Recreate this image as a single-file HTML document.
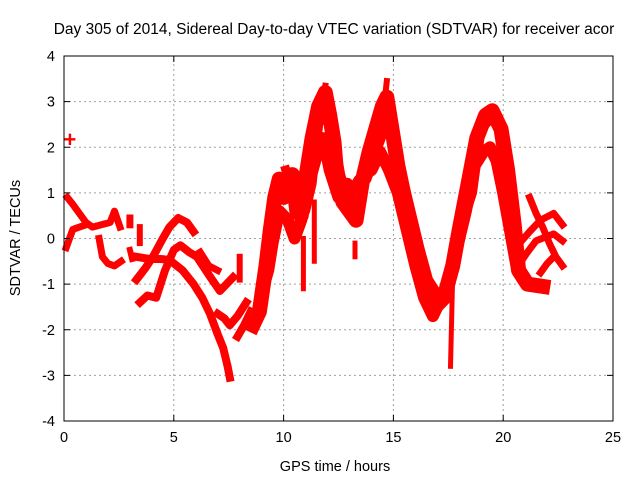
<!DOCTYPE html>
<html><head><meta charset="utf-8"><style>
body{margin:0;background:#fff}
svg{display:block;font-family:"Liberation Sans",Arial,sans-serif}
</style></head><body>
<svg id="chart" width="640" height="480" xmlns="http://www.w3.org/2000/svg">
<text x="334" y="34" font-size="15.5" text-anchor="middle">Day 305 of 2014, Sidereal Day-to-day VTEC variation (SDTVAR) for receiver acor</text>
<text x="335" y="471" font-size="14.5" text-anchor="middle">GPS time / hours</text>
<text x="20" y="238" font-size="14.5" text-anchor="middle" transform="rotate(-90 20 238)">SDTVAR / TECUs</text>
<g id="grid"></g>
<g id="marks"></g>
<g id="axes"></g>
</svg>
<script>
const xTicks=[0,5,10,15,20,25];
const yTicks=[-4,-3,-2,-1,0,1,2,3,4];
const trackEarlyA=[[0.15,0.9],[0.4,0.75],[0.7,0.55],[1.0,0.35],[1.3,0.25],[1.7,0.3],[2.1,0.35],[2.3,0.6],[2.55,0.25]];
const trackEarlyB=[[0.1,-0.2],[0.4,0.2],[0.7,0.25],[1.0,0.3]];
const trackEarlyC=[[1.6,0.0],[1.75,-0.4],[2.0,-0.55],[2.3,-0.6],[2.6,-0.5]];
const trackEarlyD=[[3.0,0.45],[3.0,0.3]];
const trackEarlyE=[[3.45,0.25],[3.45,-0.1]];
const trackEarlyF=[[3.0,-0.25],[3.1,-0.45]];
const trackUpper=[[3.3,-0.9],[3.7,-0.65],[4.05,-0.4],[4.5,0.0],[4.8,0.25],[5.2,0.45],[5.6,0.35],[5.9,0.15]];
const trackMiddle=[[3.46,-1.4],[3.8,-1.25],[4.2,-1.3],[4.6,-0.7],[5.0,-0.25],[5.3,-0.15],[5.7,-0.3],[6.05,-0.4],[6.6,-0.8],[7.1,-1.15],[7.4,-1.0],[7.7,-0.85]];
const trackLower=[[3.3,-0.4],[3.9,-0.45],[4.4,-0.45],[4.8,-0.47],[5.4,-0.7],[5.9,-1.0],[6.3,-1.3],[6.65,-1.65],[7.0,-2.1],[7.25,-2.4],[7.45,-2.8],[7.55,-3.05]];
const trackSide=[[6.2,-0.3],[6.6,-0.6],[7.0,-0.7]];
const trackDip=[[7.0,-1.65],[7.3,-1.75],[7.55,-1.9],[7.9,-1.7],[8.3,-1.4]];
const trackSpike8=[[8.0,-0.4],[8.0,-0.9]];
const trackLow8=[[7.9,-2.15],[8.2,-1.9],[8.5,-1.6]];
const blobMain=[[8.6,-1.9],[8.9,-1.6],[9.2,-0.6],[9.4,0.2],[9.6,0.9],[9.8,1.3],[10.0,0.9],[10.2,1.2],[10.4,1.4],[10.6,0.6],[10.8,0.5],[11.0,1.3],[11.3,2.2],[11.6,2.9],[11.9,3.2],[12.1,2.7],[12.3,2.1],[12.4,1.5],[12.7,0.8],[13.0,0.6],[13.3,0.4],[13.6,1.3],[13.9,1.9],[14.2,2.4],[14.5,2.9],[14.7,3.1],[14.9,2.5],[15.2,1.6],[15.5,0.9],[15.8,0.2],[16.1,-0.5],[16.5,-1.1],[16.9,-1.5],[17.3,-1.3],[17.7,-0.6],[18.0,0.2],[18.4,1.2],[18.8,2.2],[19.2,2.7],[19.5,2.8],[19.9,2.4],[20.2,1.5],[20.5,0.3],[20.7,-0.7],[21.1,-1.0],[21.8,-1.05]];
const blobSecond=[[9.0,-1.2],[9.3,-0.7],[9.5,-0.1],[9.8,0.6],[10.2,0.4],[10.5,0.0],[10.8,0.4],[11.2,1.3],[11.5,1.8],[11.8,2.2],[12.1,1.5],[12.5,0.9],[12.9,1.2],[13.1,0.5],[13.3,0.9],[13.7,1.4],[14.0,1.5],[14.4,1.9],[14.8,1.5],[15.2,1.0],[15.6,0.2],[16.0,-0.6],[16.4,-1.3],[16.8,-1.7],[17.2,-1.3],[17.5,-1.0],[17.9,-0.2],[18.3,0.6],[18.7,1.6],[19.1,1.9],[19.4,2.0],[19.7,1.7],[20.0,1.0],[20.3,0.2],[20.6,-0.6]];
const blobThird=[[10.1,1.5],[10.4,1.0],[10.6,1.0],[11.0,0.6],[11.3,1.2],[11.6,2.5],[12.0,3.0],[12.3,2.2],[12.6,1.4],[12.9,0.9],[13.4,1.3],[13.8,1.3],[14.3,2.0],[14.6,2.4],[15.0,2.4],[15.4,1.4],[15.8,0.6],[16.2,-0.2],[16.6,-0.9],[17.0,-1.2],[17.4,-1.2],[17.8,-0.5],[18.2,0.4],[18.6,1.0],[19.0,2.4],[19.6,2.7],[20.0,2.2],[20.3,1.2],[20.5,0.0],[20.9,-0.9]];
const spikeA=[[10.9,0.0],[10.9,-1.1]];
const spikeB=[[11.4,0.8],[11.4,-0.5]];
const spikeC=[[13.25,-0.1],[13.25,-0.4]];
const spikeD=[[17.7,-0.8],[17.6,-2.8]];
const spikeE=[[11.8,3.0],[11.9,3.35]];
const spikeF=[[14.6,3.0],[14.7,3.45]];
const branchA=[[20.75,-0.1],[21.2,0.15],[21.7,0.4],[22.3,0.55],[22.7,0.3]];
const branchB=[[20.75,-0.55],[21.1,-0.3],[21.5,-0.05],[22.3,0.1],[22.7,-0.05]];
const branchC=[[21.2,0.9],[21.5,0.55],[21.8,0.25],[22.1,-0.1],[22.4,-0.4],[22.7,-0.6]];
const branchD=[[21.7,-0.75],[22.0,-0.55],[22.3,-0.4]];

const series=[trackEarlyA,trackEarlyB,trackEarlyC,trackEarlyD,trackEarlyE,trackEarlyF,trackUpper,trackMiddle,trackLower,trackSide,trackDip,trackSpike8,trackLow8,blobMain,blobSecond,blobThird,spikeA,spikeB,spikeC,spikeD,spikeE,spikeF,branchA,branchB,branchC,branchD];
const widths=[7,7,7,7,6,6,8,8,8,7,8,6,8,15,12,9,5,5,5,5,6,6,7,7,7,7];

const X0=64,X1=613,Y0=421,Y1=56;
function sx(h){return X0+(h-0)/(25-0)*(X1-X0);}
function sy(v){return Y0-(v+4)/8*(Y0-Y1);}
const NS="http://www.w3.org/2000/svg";
const grid=document.getElementById('grid'),axes=document.getElementById('axes'),marks=document.getElementById('marks');
function mk(tag,attrs,parent){const e=document.createElementNS(NS,tag);for(const k in attrs)e.setAttribute(k,attrs[k]);parent.appendChild(e);return e;}
xTicks.forEach(t=>{
  const x=sx(t);
  if(t>0&&t<25){const l=mk('line',{x1:x,y1:Y0,x2:x,y2:Y1,stroke:'#a0a0a0','stroke-dasharray':'2,3','stroke-width':1},grid);
  
  }
  const tk=mk('path',{d:`M${x},${Y0}v-6M${x},${Y1}v6`,stroke:'#000','stroke-width':1},axes);
  
  
  const tx=mk('text',{x:x,y:Y0+21,'font-size':14.5,'text-anchor':'middle'},axes);tx.textContent=t;
  
  
});
yTicks.forEach(t=>{
  const y=sy(t);
  if(t>-4&&t<4){const l=mk('line',{x1:X0,y1:y,x2:X1,y2:y,stroke:'#a0a0a0','stroke-dasharray':'2,3','stroke-width':1},grid);
  
  }
  const tk=mk('path',{d:`M${X0},${y}h6M${X1},${y}h-6`,stroke:'#000','stroke-width':1},axes);
  
  
  const tx=mk('text',{x:X0-9,y:y+5,'font-size':14.5,'text-anchor':'end'},axes);tx.textContent=t;
  
  
});
const frame=mk('rect',{x:X0,y:Y1,width:X1-X0,height:Y0-Y1,fill:'none',stroke:'#000','stroke-width':1},axes);


series.forEach((s,i)=>{
  const pts=s.map(p=>sx(p[0]).toFixed(1)+','+sy(p[1]).toFixed(1)).join(' ');
  const pl=mk('polyline',{points:pts,fill:'none',stroke:'#ff0000','stroke-width':widths[i],'stroke-linejoin':'round','stroke-linecap':'square'},marks);
  
  
});
const pt=mk('text',{x:sx(0.27),y:sy(2.16)+7,'font-size':22,'font-weight':'bold',fill:'#ff0000','text-anchor':'middle'},marks);pt.textContent='+';


</script>
</body></html>
